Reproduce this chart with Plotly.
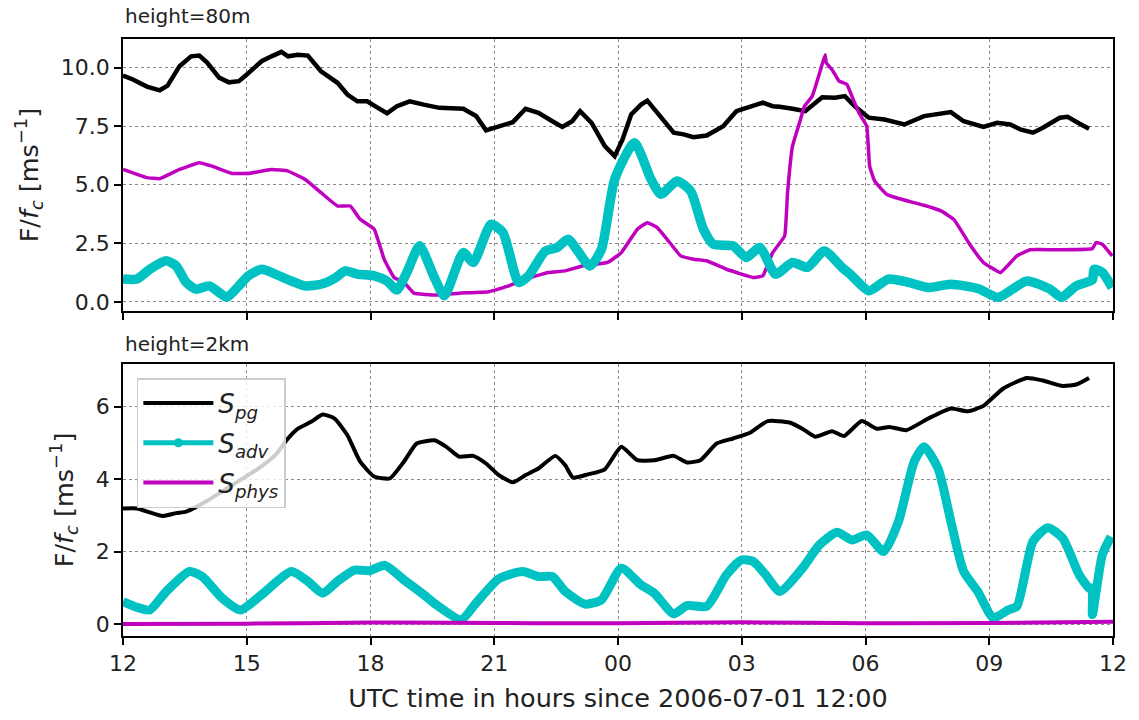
import pandas as pd
import plotly.graph_objects as go
from plotly.subplots import make_subplots

START = pd.Timestamp("2006-07-01 12:00")

# ---- height = 80 m ----
pg80_h = [0.00, 0.24, 0.58, 0.89, 1.08, 1.37, 1.65, 1.85, 2.04, 2.33, 2.57, 2.81, 3.00, 3.36, 3.60,
          3.84, 4.00, 4.24, 4.48, 4.80, 5.20, 5.44, 5.68, 5.92, 6.16, 6.40, 6.64, 6.95, 7.29, 7.67,
          8.25, 8.56, 8.80, 9.11, 9.45, 9.76, 10.07, 10.41, 10.65, 10.89, 11.08, 11.36, 11.68, 11.92,
          12.11, 12.32, 12.56, 12.71, 12.95, 13.19, 13.35, 13.59, 13.83, 14.15, 14.55, 14.87, 15.20,
          15.51, 15.75, 15.92, 16.23, 16.54, 16.95, 17.26, 17.50, 17.74, 18.08, 18.46, 18.94, 19.42,
          20.07, 20.38, 20.86, 21.19, 21.51, 21.75, 22.06, 22.30, 22.71, 22.90, 23.18, 23.42]
pg80_v = [9.66, 9.49, 9.19, 9.03, 9.23, 10.06, 10.48, 10.51, 10.21, 9.57, 9.37, 9.42, 9.70, 10.27, 10.48,
          10.67, 10.48, 10.55, 10.51, 9.84, 9.35, 8.85, 8.56, 8.56, 8.30, 8.05, 8.35, 8.56, 8.42, 8.28,
          8.24, 7.93, 7.32, 7.47, 7.67, 8.24, 8.07, 7.71, 7.47, 7.71, 8.14, 7.64, 6.65, 6.22,
          6.93, 8.00, 8.42, 8.59, 8.07, 7.50, 7.22, 7.15, 7.03, 7.10, 7.50, 8.14, 8.35,
          8.50, 8.35, 8.33, 8.24, 8.14, 8.73, 8.71, 8.78, 8.35, 7.86, 7.78, 7.57, 7.93,
          8.10, 7.71, 7.47, 7.64, 7.57, 7.36, 7.22, 7.43, 7.86, 7.90, 7.61, 7.39]

adv80_h = [0.00, 0.34, 0.65, 1.05, 1.29, 1.53, 1.77, 2.09, 2.33, 2.52, 2.81, 3.04, 3.36, 3.69, 4.08,
           4.41, 4.80, 5.13, 5.39, 5.68, 6.09, 6.40, 6.64, 6.88, 7.19, 7.53, 7.79, 8.25, 8.49, 8.92,
           9.21, 9.59, 9.83, 10.24, 10.53, 10.79, 11.32, 11.60, 11.92, 12.40, 12.80, 13.04, 13.43,
           13.76, 14.07, 14.31, 14.79, 15.11, 15.44, 15.82, 16.23, 16.59, 17.00, 17.43, 17.67, 18.08,
           18.56, 19.04, 19.52, 20.07, 20.72, 21.22, 21.91, 22.47, 22.75, 23.11, 23.50, 23.54, 23.74,
           23.98]
adv80_v = [0.97, 0.97, 1.39, 1.75, 1.53, 0.83, 0.54, 0.68, 0.40, 0.19, 0.68, 1.11, 1.39, 1.18, 0.89,
           0.68, 0.75, 1.00, 1.32, 1.18, 1.11, 0.89, 0.50, 1.25, 2.39, 1.11, 0.26, 2.10, 1.68, 3.31,
           2.96, 0.83, 1.11, 2.17, 2.32, 2.67, 1.53, 2.25, 5.23, 6.79, 5.23, 4.59, 5.16,
           4.73, 3.10, 2.46, 2.39, 1.89, 2.32, 1.18, 1.68, 1.47, 2.17, 1.47, 1.11, 0.47,
           0.97, 0.83, 0.61, 0.75, 0.57, 0.19, 0.89, 0.54, 0.19, 0.68, 0.94, 1.39, 1.25,
           0.61]

phys80_h = [0.00, 0.58, 0.89, 1.37, 1.85, 2.16, 2.64, 3.04, 3.60, 4.00, 4.41, 4.80, 5.20, 5.51, 5.75,
            6.09, 6.33, 6.57, 6.81, 7.05, 7.60, 8.15, 8.87, 9.35, 9.76, 10.31, 10.72, 11.13, 11.75,
            12.08, 12.47, 12.71, 12.95, 13.19, 13.52, 13.83, 14.15, 14.63, 15.27, 15.51, 15.75, 16.04,
            16.11, 16.23, 16.40, 16.52, 16.71, 16.90, 17.02, 17.05, 17.19, 17.36, 17.55, 17.67, 17.84,
            18.03, 18.10, 18.22, 18.51, 18.80, 19.42, 19.83, 20.14, 20.55, 20.86, 21.27, 21.67, 21.99,
            22.63, 23.50, 23.59, 23.74, 23.98]
phys80_v = [5.65, 5.30, 5.26, 5.65, 5.94, 5.79, 5.48, 5.48, 5.65, 5.58, 5.23, 4.66, 4.09, 4.09, 3.52,
            3.10, 1.82, 1.04, 0.83, 0.37, 0.29, 0.37, 0.43, 0.68, 0.97, 1.25, 1.32, 1.53, 1.68,
            2.10, 3.10, 3.38, 3.17, 2.67, 1.96, 1.82, 1.75, 1.39, 1.04, 1.11, 2.10, 2.81,
            4.66, 6.65, 7.64, 8.35, 8.78, 9.84, 10.55, 10.20, 9.91, 9.42, 9.28, 8.78, 8.07,
            7.50, 5.79, 5.16, 4.59, 4.41, 4.12, 3.88, 3.52, 2.39, 1.68, 1.25, 1.96, 2.22,
            2.22, 2.27, 2.53, 2.46, 1.96]

# ---- height = 2 km ----
pg2k_h = [0.00, 0.34, 0.65, 0.96, 1.29, 1.53, 2.01, 2.64, 3.28, 3.69, 4.00, 4.24, 4.56, 4.84, 5.13,
          5.44, 5.75, 6.09, 6.47, 6.81, 7.12, 7.55, 7.84, 8.15, 8.49, 8.80, 9.11, 9.45, 9.76, 10.07,
          10.48, 10.72, 10.91, 11.27, 11.68, 12.08, 12.47, 12.88, 13.35, 13.67, 14.00, 14.39, 14.79,
          15.20, 15.63, 16.16, 16.47, 16.78, 17.19, 17.48, 17.91, 18.27, 18.58, 18.99, 19.52, 20.07,
          20.48, 20.86, 21.34, 21.91, 22.30, 22.78, 23.11, 23.42]
pg2k_v = [3.19, 3.19, 3.08, 2.98, 3.06, 3.10, 3.38, 3.83, 4.29, 4.66, 5.12, 5.39, 5.58, 5.78, 5.67,
          5.21, 4.48, 4.07, 4.02, 4.48, 4.98, 5.07, 4.89, 4.62, 4.64, 4.43, 4.11, 3.91, 4.11, 4.29,
          4.64, 4.38, 4.04, 4.13, 4.27, 4.89, 4.52, 4.52, 4.64, 4.46, 4.52, 4.98, 5.12,
          5.28, 5.60, 5.56, 5.39, 5.17, 5.32, 5.19, 5.60, 5.39, 5.44, 5.35, 5.67, 5.95,
          5.87, 6.02, 6.50, 6.79, 6.72, 6.57, 6.61, 6.79]

adv2k_h = [0.00, 0.34, 0.65, 1.05, 1.61, 1.92, 2.40, 2.85, 3.36, 4.08, 4.48, 4.84, 5.20, 5.61, 5.97,
           6.35, 6.81, 7.29, 7.60, 8.20, 8.56, 9.11, 9.69, 10.07, 10.41, 10.72, 11.20, 11.60, 12.08,
           12.56, 12.88, 13.35, 13.67, 14.15, 14.63, 14.99, 15.27, 15.58, 15.92, 16.47, 16.88, 17.31,
           17.67, 18.03, 18.44, 18.80, 19.18, 19.42, 19.76, 20.07, 20.38, 20.72, 21.10, 21.46, 21.67,
           22.06, 22.42, 22.78, 23.18, 23.42, 23.49, 23.50, 23.74, 23.95]
adv2k_v = [0.62, 0.46, 0.39, 0.90, 1.45, 1.31, 0.72, 0.39, 0.81, 1.45, 1.18, 0.85, 1.18, 1.49, 1.47,
           1.62, 1.22, 0.81, 0.53, 0.12, 0.58, 1.25, 1.45, 1.31, 1.31, 0.90, 0.55, 0.67, 1.54,
           1.08, 0.85, 0.28, 0.51, 0.49, 1.36, 1.77, 1.73, 1.36, 0.90, 1.54, 2.18, 2.53,
           2.32, 2.46, 2.00, 2.83, 4.48, 4.89, 4.29, 2.83, 1.45, 0.90, 0.17, 0.39, 0.49,
           2.28, 2.66, 2.37, 1.36, 0.99, 0.99, 0.26, 1.91, 2.41]

phys2k_h = [0, 3, 6, 9, 12, 15, 18, 21, 24]
phys2k_v = [0.00, 0.01, 0.04, 0.03, 0.02, 0.05, 0.02, 0.03, 0.06]

X_TICK_VALS = [0, 3, 6, 9, 12, 15, 18, 21, 24]

BLACK, CYAN, MAGENTA = "#000000", "#00c2c2", "#bf00bf"
FONT = "DejaVu Sans"
TXT = "#222222"


def to_time(hours):
    return START + pd.to_timedelta(pd.Series(hours, dtype=float), unit="h")


fig = make_subplots(rows=2, cols=1, shared_xaxes=True, vertical_spacing=0.0882,
                    row_heights=[0.5, 0.5])

# top panel: 80 m
fig.add_trace(go.Scatter(x=to_time(pg80_h), y=pg80_v, mode="lines",
                         line=dict(color=BLACK, width=4.5), showlegend=False), 1, 1)
fig.add_trace(go.Scatter(x=to_time(phys80_h), y=phys80_v, mode="lines",
                         line=dict(color=MAGENTA, width=3.5, shape="spline", smoothing=0.3),
                         showlegend=False), 1, 1)
fig.add_trace(go.Scatter(x=to_time(adv80_h), y=adv80_v, mode="lines",
                         line=dict(color=CYAN, width=9.5, shape="spline", smoothing=0.6),
                         showlegend=False), 1, 1)

# bottom panel: 2 km
fig.add_trace(go.Scatter(x=to_time(pg2k_h), y=pg2k_v, mode="lines", name="<i>S<sub>pg</sub></i>",
                         legendgroup="pg",
                         line=dict(color=BLACK, width=4, shape="spline", smoothing=0.5)), 2, 1)
fig.add_trace(go.Scatter(x=to_time(adv2k_h), y=adv2k_v, mode="lines", name="<i>S<sub>adv</sub></i>",
                         legendgroup="adv",
                         line=dict(color=CYAN, width=9, shape="spline", smoothing=0.6),
                         showlegend=False), 2, 1)
# legend entry for S_adv (line with a dot marker)
fig.add_trace(go.Scatter(x=to_time([None]), y=[None], mode="lines+markers",
                         name="<i>S<sub>adv</sub></i>", legendgroup="adv",
                         line=dict(color=CYAN, width=5), marker=dict(color=CYAN, size=9)), 2, 1)
fig.add_trace(go.Scatter(x=to_time(phys2k_h), y=phys2k_v, mode="lines", name="<i>S<sub>phys</sub></i>",
                         legendgroup="phys",
                         line=dict(color=MAGENTA, width=4, shape="spline")), 2, 1)

axis_common = dict(showline=True, linecolor="black", linewidth=1.5, mirror=True,
                   ticks="outside", ticklen=7, tickwidth=1.5, tickcolor="black",
                   showgrid=True, gridcolor="#8a8a8a", griddash="dot", gridwidth=1.3,
                   zeroline=False, tickfont=dict(family=FONT, size=22, color=TXT))

x_ticks = list(to_time(X_TICK_VALS))
fig.update_xaxes(**axis_common, range=[x_ticks[0], x_ticks[-1]], tickvals=x_ticks,
                 tickformat="%H")
fig.update_xaxes(showticklabels=False, row=1, col=1)
fig.update_xaxes(title=dict(text="UTC time in hours since 2006-07-01 12:00",
                            font=dict(family=FONT, size=25.5, color=TXT), standoff=14),
                 row=2, col=1)

ytitle = dict(text="F/<i>f<sub>c</sub></i> [ms<sup>−1</sup>]",
              font=dict(family=FONT, size=25.5, color=TXT), standoff=15)
fig.update_yaxes(**axis_common)
fig.update_yaxes(range=[-0.4, 11.22], tickvals=[0, 2.5, 5, 7.5, 10], tickformat=".1f",
                 title=ytitle, row=1, col=1)
fig.update_yaxes(range=[-0.33, 7.18], tickvals=[0, 2, 4, 6], title=ytitle, row=2, col=1)

fig.add_annotation(text="height=80m", xref="paper", yref="paper", x=0, y=1.038,
                   xanchor="left", yanchor="middle", showarrow=False,
                   font=dict(family=FONT, size=20, color=TXT))
fig.add_annotation(text="height=2km", xref="paper", yref="paper", x=0, y=0.489,
                   xanchor="left", yanchor="middle", showarrow=False,
                   font=dict(family=FONT, size=20, color=TXT))

fig.update_layout(
    width=1139, height=720,
    margin=dict(l=123, r=15, t=39, b=82),
    plot_bgcolor="white", paper_bgcolor="white",
    legend=dict(x=0.014, y=0.432, xanchor="left", yanchor="top",
                bgcolor="rgba(255,255,255,0.8)", bordercolor="#cccccc", borderwidth=1.5,
                font=dict(family=FONT, size=26, color=TXT), itemwidth=70,
                tracegroupgap=3),
)

fig.write_html("out.html")
